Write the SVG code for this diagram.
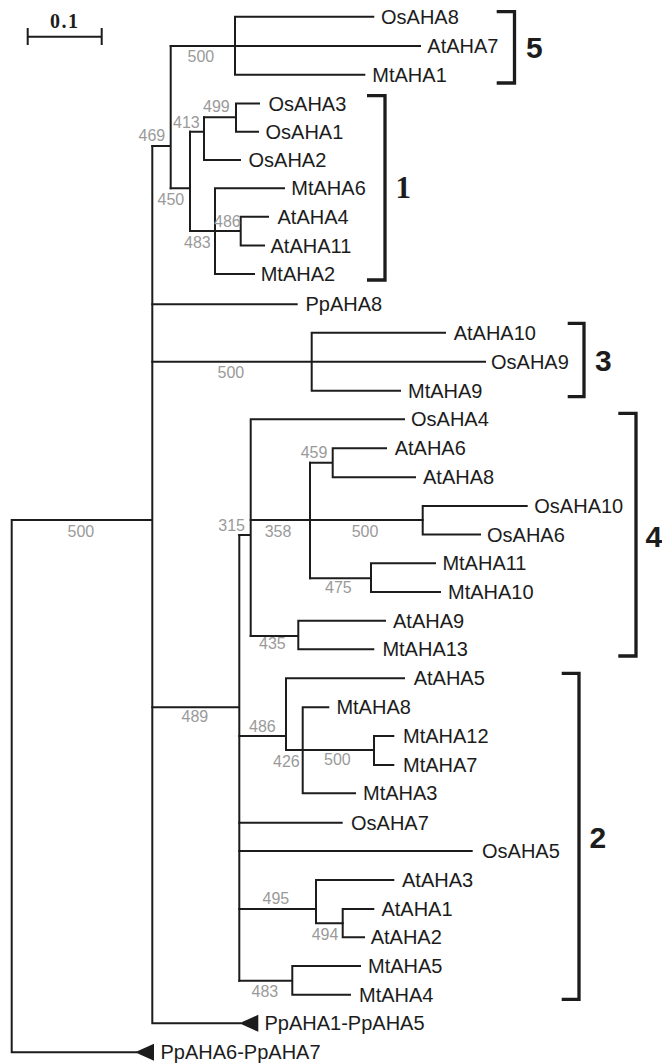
<svg xmlns="http://www.w3.org/2000/svg" width="662" height="1063" viewBox="0 0 662 1063">
  <style>
    .br { stroke:#1c1c1c; stroke-width:2; fill:none; stroke-linecap:square; }
    .bk { stroke:#1c1c1c; stroke-width:3.3; fill:none; stroke-linejoin:miter; }
    .lf { font-family:"Liberation Sans", Arial, sans-serif; font-size:20px; fill:#1c1c1c; }
    .bs { font-family:"Liberation Sans", Arial, sans-serif; font-size:16px; fill:#9a9a9a; }
    .cl { font-family:"Liberation Sans", Arial, sans-serif; font-size:30px; font-weight:bold; fill:#1c1c1c; }
    .cs { font-family:"Liberation Serif", "Times New Roman", serif; font-weight:bold; fill:#1c1c1c; }
    .tri { fill:#1c1c1c; }
  </style>

  <!-- scale bar -->
  <g id="scale">
    <path class="br" d="M27.7,36.7 H101.7 M27.7,29 V44 M101.7,29 V44" stroke-linecap="butt"/>
    <text class="cs" x="64.7" y="28.3" font-size="20" letter-spacing="1.5" text-anchor="middle">0.1</text>
  </g>

  <!-- branches -->
  <g id="connectors" class="br">
    <!-- root and backbone -->
    <path d="M151.7,520 H11.7 V1052.3 H136"/>
    <path d="M152.3,146 V1023.3 H240"/>
    <path d="M152.3,304.3 H296.7"/>
    <!-- clade 3 -->
    <path d="M152.3,361.7 H485 M311.7,332.7 V390.7 M311.7,332.7 H445 M311.7,390.7 H400"/>
    <!-- clades 5 and 1 -->
    <path d="M152.3,146 H170.7 M170.7,46 V188.3"/>
    <path d="M170.7,46 H420 M235,16.7 V74.7 M235,16.7 H373.3 M235,74.7 H364.3"/>
    <path d="M170.7,188.3 H190 M190,131.7 V231"/>
    <path d="M190,131.7 H204 M204,117.3 V160 M204,160 H240"/>
    <path d="M204,117.3 H236 M236,103.5 V131.7 M236,103.5 H259 M236,131.7 H258"/>
    <path d="M190,231 H215 M215,188.3 V274 M215,188.3 H284 M215,274 H254"/>
    <path d="M215,231 H240.7 M240.7,216.7 V245.5 M240.7,216.7 H268 M240.7,245.5 H264"/>
    <!-- node 489 -->
    <path d="M152.3,707.3 H239.3 M239.3,535 V980.7"/>
    <!-- clade 4 -->
    <path d="M239.3,535 H250.7 M250.7,419.3 V636 M250.7,419.3 H404"/>
    <path d="M250.7,520 H422.7 M310,462.7 V578.3"/>
    <path d="M310,462.7 H332.7 M332.7,448.3 V477.3 M332.7,448.3 H386 M332.7,477.3 H415"/>
    <path d="M422.7,506 V534.5 M422.7,506 H526.7 M422.7,534.5 H480"/>
    <path d="M310,578.3 H371 M371,563.3 V592 M371,563.3 H435 M371,592 H440"/>
    <path d="M250.7,636 H298.3 M298.3,620.7 V649.3 M298.3,620.7 H385 M298.3,649.3 H373.3"/>
    <!-- clade 2 -->
    <path d="M239.3,736 H286 M286,678.3 V750 M286,678.3 H404 M286,750 H374"/>
    <path d="M302.7,707.3 V793.3 M302.7,707.3 H328.3 M302.7,793.3 H355"/>
    <path d="M374,736 V765 M374,736 H393.3 M374,765 H393.3"/>
    <path d="M239.3,822.7 H341.7 M239.3,851 H471.7"/>
    <path d="M239.3,909 H316 M316,880 V923.3 M316,880 H393.3 M316,923.3 H342.7"/>
    <path d="M342.7,909 V937.3 M342.7,909 H373.3 M342.7,937.3 H364"/>
    <path d="M239.3,980.7 H292.3 M292.3,966 V994.7 M292.3,966 H360 M292.3,994.7 H350"/>
  </g>

  <!-- collapsed groups -->
  <polygon class="tri" points="239.3,1023.3 258.3,1014.8 258.3,1031.8"/>
  <polygon class="tri" points="135,1052.3 154,1043.8 154,1060.8"/>

  <!-- bootstrap values -->
  <g id="support" class="bs">
    <text x="187.5" y="62">500</text>
    <text x="138.5" y="141">469</text>
    <text x="203" y="111.7">499</text>
    <text x="173" y="128">413</text>
    <text x="157.5" y="205">450</text>
    <text x="214" y="226.7">486</text>
    <text x="184" y="248">483</text>
    <text x="217.5" y="377.7">500</text>
    <text x="300.7" y="458.3">459</text>
    <text x="218.3" y="530.7">315</text>
    <text x="264.7" y="536.7">358</text>
    <text x="351.7" y="536.7">500</text>
    <text x="325" y="592.7">475</text>
    <text x="259" y="649.3">435</text>
    <text x="67.5" y="536.7">500</text>
    <text x="181.5" y="721.7">489</text>
    <text x="249" y="731.7">486</text>
    <text x="273" y="766.7">426</text>
    <text x="324" y="765">500</text>
    <text x="262.5" y="904.3">495</text>
    <text x="311.7" y="940">494</text>
    <text x="251.5" y="996.7">483</text>
  </g>

  <!-- leaves -->
  <g class="lf">
    <g id="OsAHA8"><text x="381" y="23.7">OsAHA8</text></g>
    <g id="AtAHA7"><text x="427.3" y="53">AtAHA7</text></g>
    <g id="MtAHA1"><text x="372.3" y="81.7">MtAHA1</text></g>
    <g id="OsAHA3"><text x="268.5" y="110.5">OsAHA3</text></g>
    <g id="OsAHA1"><text x="265.5" y="138.7">OsAHA1</text></g>
    <g id="OsAHA2"><text x="248.5" y="167">OsAHA2</text></g>
    <g id="MtAHA6"><text x="291.3" y="195.3">MtAHA6</text></g>
    <g id="AtAHA4"><text x="277.5" y="223.7">AtAHA4</text></g>
    <g id="AtAHA11"><text x="270.5" y="252.5">AtAHA11</text></g>
    <g id="MtAHA2"><text x="260.7" y="281">MtAHA2</text></g>
    <g id="PpAHA8"><text x="305.5" y="311.3">PpAHA8</text></g>
    <g id="AtAHA10"><text x="453.7" y="339.7">AtAHA10</text></g>
    <g id="OsAHA9"><text x="491" y="368.7">OsAHA9</text></g>
    <g id="MtAHA9"><text x="408" y="397.7">MtAHA9</text></g>
    <g id="OsAHA4"><text x="411" y="426.3">OsAHA4</text></g>
    <g id="AtAHA6"><text x="394.7" y="455.3">AtAHA6</text></g>
    <g id="AtAHA8"><text x="423" y="484.3">AtAHA8</text></g>
    <g id="OsAHA10"><text x="534.3" y="513">OsAHA10</text></g>
    <g id="OsAHA6"><text x="487" y="541.5">OsAHA6</text></g>
    <g id="MtAHA11"><text x="442.4" y="570.3">MtAHA11</text></g>
    <g id="MtAHA10"><text x="448" y="599">MtAHA10</text></g>
    <g id="AtAHA9"><text x="393" y="627.7">AtAHA9</text></g>
    <g id="MtAHA13"><text x="382.4" y="656.3">MtAHA13</text></g>
    <g id="AtAHA5"><text x="413.7" y="685.3">AtAHA5</text></g>
    <g id="MtAHA8"><text x="336.4" y="714.3">MtAHA8</text></g>
    <g id="MtAHA12"><text x="403" y="743">MtAHA12</text></g>
    <g id="MtAHA7"><text x="403" y="772">MtAHA7</text></g>
    <g id="MtAHA3"><text x="363" y="800.3">MtAHA3</text></g>
    <g id="OsAHA7"><text x="351" y="829.7">OsAHA7</text></g>
    <g id="OsAHA5"><text x="482" y="858">OsAHA5</text></g>
    <g id="AtAHA3"><text x="402" y="887">AtAHA3</text></g>
    <g id="AtAHA1"><text x="381.4" y="916">AtAHA1</text></g>
    <g id="AtAHA2"><text x="370.7" y="944.3">AtAHA2</text></g>
    <g id="MtAHA5"><text x="368" y="973">MtAHA5</text></g>
    <g id="MtAHA4"><text x="359" y="1001.7">MtAHA4</text></g>
    <g id="PpAHA1-PpAHA5"><text x="264.5" y="1030.3">PpAHA1-PpAHA5</text></g>
    <g id="PpAHA6-PpAHA7"><text x="160.5" y="1059.3">PpAHA6-PpAHA7</text></g>
  </g>

  <!-- clade brackets -->
  <g id="clade5">
    <path class="bk" d="M496.7,11.7 H514.5 V83 H496.7"/>
    <text class="cl" x="526" y="58.3">5</text>
  </g>
  <g id="clade1">
    <path class="bk" d="M367,95.7 H385 V280 H367"/>
    <text class="cs" x="395.5" y="198" font-size="31">1</text>
  </g>
  <g id="clade3">
    <path class="bk" d="M567.7,323.3 H584 V396.7 H567.7"/>
    <text class="cl" x="595" y="370.7">3</text>
  </g>
  <g id="clade4">
    <path class="bk" d="M618.3,413.3 H636 V656 H618.3"/>
    <text class="cl" x="645.5" y="546.7">4</text>
  </g>
  <g id="clade2">
    <path class="bk" d="M561.7,673.3 H579 V999.3 H561.7"/>
    <text class="cl" x="589.5" y="848.3">2</text>
  </g>
</svg>
